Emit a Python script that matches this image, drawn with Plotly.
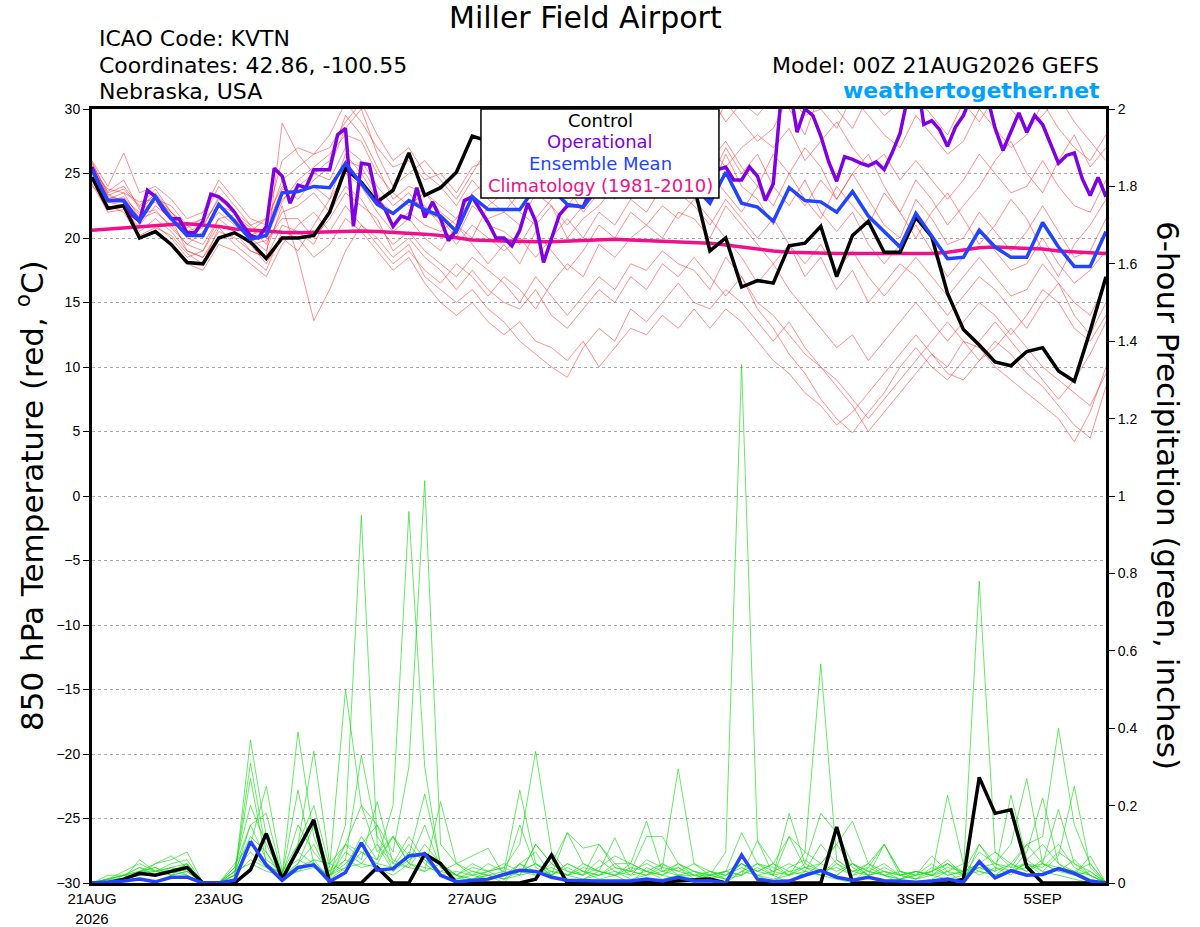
import pandas as pd
import plotly.graph_objects as go

# ---- data ----
start = "2026-08-21 00:00"
times_6h = pd.date_range(start, periods=65, freq="6h")
times_3h = pd.date_range(start, periods=129, freq="3h")

tick_dates = ["2026-08-21", "2026-08-23", "2026-08-25", "2026-08-27",
              "2026-08-29", "2026-09-01", "2026-09-03", "2026-09-05"]
tick_labels = ["21AUG<br>2026", "23AUG", "25AUG", "27AUG",
               "29AUG", "1SEP", "3SEP", "5SEP"]

# control run, 850 hPa temperature (C), 6-hourly
control_temp = [
    24.7, 22.3, 22.5, 20.0, 20.5, 19.5, 18.1, 18.0, 20.0, 20.4, 19.7, 18.4, 20.0,
    20.0, 20.2, 22.0, 25.4, 24.3, 22.8, 23.7, 26.6, 23.3, 23.9, 25.1, 27.9, 27.5,
    27.0, 27.2, 26.0, 25.5, 26.5, 27.0, 26.2, 25.0, 25.8, 26.5, 25.5, 24.8, 24.0,
    19.0, 20.0, 16.2, 16.7, 16.5, 19.4, 19.6, 20.9, 17.0, 20.2, 21.3, 18.9, 18.9,
    21.6, 20.1, 15.7, 12.9, 11.7, 10.4, 10.1, 11.2, 11.5, 9.7, 8.9, 12.8, 17.0,
]

# operational run, 3-hourly
oper_temp = [
    25.5, 24.0, 22.9, 22.9, 22.9, 21.8, 21.3, 23.7,
    23.2, 22.2, 21.5, 21.5, 20.4, 20.4, 21.3, 23.4,
    23.2, 22.7, 22.0, 21.0, 20.2, 20.0, 20.9, 25.4,
    24.8, 22.7, 24.1, 23.9, 25.3, 25.3, 25.3, 28.0,
    28.5, 20.9, 25.8, 25.7, 22.9, 22.2, 20.9, 21.7,
    21.5, 23.9, 21.6, 22.8, 21.5, 19.8, 20.6, 22.9,
    23.2, 22.2, 21.2, 20.0, 20.0, 19.4, 20.6, 22.7,
    21.3, 18.1, 20.0, 21.8, 22.5, 22.5, 22.4, 23.8,
    24.5, 25.2, 24.8, 25.6, 26.3, 25.5, 24.6, 25.8,
    26.5, 25.7, 24.9, 25.4, 24.6, 24.0, 22.9, 25.3,
    25.5, 24.5, 24.5, 25.5, 24.8, 22.9, 24.2, 31.0,
    32.0, 28.2, 30.0, 29.5, 27.9, 25.9, 24.4, 26.3,
    26.1, 25.8, 25.6, 25.9, 25.3, 26.6, 28.1, 31.0,
    33.0, 28.8, 29.1, 28.4, 27.1, 28.6, 29.5, 31.0,
    32.0, 31.0, 28.5, 26.8, 28.2, 29.7, 28.2, 29.5,
    28.8, 27.3, 25.8, 26.4, 26.6, 24.6, 23.3, 24.7,
    23.2,
]

mean_temp = [
    25.3, 22.9, 22.9, 21.3, 23.2, 21.5, 20.2, 20.2, 22.6, 21.3, 19.9, 20.2, 23.5,
    23.6, 24.0, 23.9, 25.8, 24.2, 22.6, 21.9, 22.9, 22.2, 21.7, 20.5, 23.2, 22.2,
    22.2, 22.2, 24.0, 23.8, 22.6, 22.4, 24.0, 24.5, 25.0, 24.5, 25.0, 24.5, 24.0,
    22.7, 25.1, 22.7, 22.4, 21.3, 23.9, 22.9, 22.8, 22.0, 23.6, 21.7, 20.5, 19.3,
    21.9, 20.2, 18.4, 18.5, 20.6, 19.3, 18.5, 18.5, 21.2, 19.3, 17.8, 17.8, 20.5,
]

clim_temp = [
    20.6, 20.7, 20.8, 20.9, 21.0, 21.05, 21.1, 21.0, 20.9, 20.7, 20.6, 20.5, 20.45,
    20.4, 20.45, 20.5, 20.55, 20.55, 20.5, 20.45, 20.4, 20.3, 20.2, 20.0, 19.85, 19.8,
    19.75, 19.7, 19.7, 19.7, 19.75, 19.8, 19.85, 19.9, 19.85, 19.8, 19.75, 19.7, 19.65,
    19.6, 19.45, 19.3, 19.1, 19.0, 18.9, 18.85, 18.8, 18.8, 18.8, 18.8, 18.8, 18.8,
    18.75, 18.8, 18.9, 19.1, 19.25, 19.3, 19.25, 19.2, 19.15, 19.0, 18.9, 18.85, 18.8,
]

# ensemble members, temperature
member_temp = [
    [25.8, 23.5, 24.0, 22.5, 23.8, 22.0, 21.0, 21.5, 24.0, 22.5, 21.0, 21.5, 26.0,
     27.0, 26.5, 28.0, 30.5, 29.0, 27.0, 25.5, 26.0, 24.5, 25.0, 23.5, 25.5, 26.0,
     25.0, 24.0, 26.5, 27.0, 25.5, 26.0, 27.5, 28.0, 27.0, 28.5, 29.5, 30.5, 29.0,
     28.0, 30.5, 29.0, 27.5, 28.5, 31.0, 29.5, 30.0, 28.5, 31.0, 29.5, 28.0, 27.0,
     29.5, 28.0, 26.5, 27.5, 30.0, 28.5, 27.0, 28.0, 30.5, 28.5, 27.0, 26.0, 28.0],
    [24.5, 22.8, 22.5, 20.5, 21.5, 20.5, 19.0, 18.5, 20.5, 20.0, 19.0, 18.5, 21.0,
     20.5, 19.5, 22.0, 24.0, 23.0, 21.0, 19.5, 20.5, 19.0, 18.0, 17.0, 18.5, 17.5,
     16.5, 15.0, 17.0, 15.5, 14.0, 15.5, 17.0, 16.0, 18.0, 17.5, 19.0, 18.0, 17.5,
     16.0, 18.5, 17.0, 15.0, 14.0, 12.5, 11.0, 10.0, 8.5, 7.0, 5.0, 6.5, 8.0,
     9.5, 11.0, 10.0, 12.0, 11.5, 10.0, 9.0, 8.0, 7.0, 6.0, 4.2, 6.5, 10.0],
    [25.0, 23.0, 23.5, 21.5, 22.0, 21.0, 19.5, 20.5, 22.0, 21.0, 20.0, 19.0, 22.5,
     18.5, 13.6, 16.0, 19.0, 21.0, 19.5, 18.0, 19.0, 17.5, 16.5, 18.0, 17.0, 15.5,
     17.0, 16.0, 14.5, 16.5, 18.0, 17.0, 19.5, 18.5, 20.0, 21.0, 20.0, 22.0, 21.5,
     20.0, 22.5, 21.0, 19.5, 18.0, 19.5, 17.0, 18.5, 16.0, 17.5, 15.0, 16.5, 18.0,
     17.0, 15.5, 14.0, 15.5, 17.0, 16.0, 14.5, 13.0, 15.0, 16.5, 14.0, 12.5, 15.0],
    [26.0, 24.0, 26.6, 23.5, 24.0, 23.0, 21.5, 22.0, 24.5, 23.0, 21.5, 21.0, 24.5,
     25.5, 26.5, 27.0, 29.0, 30.5, 28.0, 26.0, 27.0, 25.0, 24.0, 22.5, 24.5, 23.0,
     22.0, 23.5, 25.0, 24.0, 22.5, 24.0, 26.0, 25.0, 26.5, 27.5, 26.0, 28.0, 27.0,
     26.0, 27.5, 25.5, 24.0, 22.5, 25.0, 27.0, 25.5, 23.0, 25.0, 26.5, 24.0, 22.0,
     24.5, 23.0, 21.0, 22.5, 24.0, 26.0, 27.5, 25.0, 23.5, 26.0, 28.0, 25.5, 27.0],
    [24.8, 22.5, 22.0, 20.0, 20.5, 19.5, 18.0, 17.5, 19.5, 19.0, 18.0, 17.0, 19.5,
     21.0, 22.0, 20.5, 22.5, 21.0, 20.0, 18.5, 19.5, 17.0, 16.0, 15.0, 16.0, 14.5,
     13.5, 12.0, 11.0, 10.0, 9.2, 11.5, 13.0, 12.0, 14.5, 13.5, 15.0, 16.5, 15.0,
     14.5, 16.0, 15.0, 13.5, 12.0, 13.5, 11.5, 10.0, 9.0, 7.5, 6.0, 7.5, 9.0,
     10.5, 12.0, 13.5, 12.0, 10.5, 11.5, 13.0, 11.5, 10.0, 9.0, 8.0, 7.0, 9.5],
    [25.5, 23.2, 23.0, 22.0, 23.5, 22.0, 20.5, 21.0, 23.0, 22.0, 20.5, 20.5, 23.0,
     24.0, 25.0, 24.5, 27.0, 26.0, 24.0, 22.5, 23.5, 22.0, 21.5, 20.0, 22.5, 21.5,
     22.0, 21.0, 23.5, 22.5, 21.0, 22.5, 24.0, 23.0, 25.0, 24.5, 26.0, 25.0, 24.5,
     23.5, 26.5, 24.0, 23.0, 21.0, 24.0, 22.5, 24.5, 23.0, 25.0, 23.0, 21.0, 20.0,
     23.0, 21.5, 19.5, 20.0, 22.0, 20.5, 19.0, 20.5, 22.5, 20.5, 18.5, 19.0, 21.5],
    [25.2, 23.8, 23.5, 22.8, 23.0, 22.5, 21.0, 20.0, 22.5, 21.5, 20.5, 21.5, 24.0,
     23.0, 24.5, 25.5, 28.5, 30.0, 26.5, 24.0, 25.0, 26.0, 24.5, 23.0, 25.0, 27.0,
     26.0, 27.5, 28.0, 26.5, 27.5, 29.0, 30.5, 28.5, 27.0, 29.5, 31.0, 29.0, 30.5,
     31.0, 29.0, 30.5, 29.5, 31.0, 30.0, 28.0, 31.5, 30.0, 28.5, 31.0, 29.5, 30.5,
     31.0, 29.5, 28.0, 30.5, 29.0, 31.0, 30.0, 28.5, 29.5, 31.0, 29.0, 27.5, 26.0],
    [24.2, 22.0, 22.2, 20.8, 21.0, 20.0, 18.5, 19.0, 21.0, 20.5, 19.5, 18.0, 20.0,
     19.0, 21.0, 23.0, 25.0, 24.0, 22.0, 20.5, 21.5, 20.0, 19.0, 21.0, 19.5, 18.0,
     19.5, 18.0, 20.5, 19.0, 17.5, 19.0, 21.0, 20.0, 22.0, 21.0, 22.5, 21.5, 23.0,
     21.5, 20.0, 18.5, 16.5, 18.0, 16.0, 14.5, 13.0, 11.5, 12.5, 10.5, 12.0, 13.5,
     15.0, 13.5, 12.0, 13.5, 15.0, 14.0, 12.5, 14.0, 16.0, 15.0, 13.0, 12.0, 14.0],
    [25.6, 23.6, 24.5, 22.2, 22.8, 21.5, 20.0, 19.5, 21.5, 21.8, 20.8, 19.5, 22.0,
     22.5, 23.5, 22.0, 26.0, 25.5, 23.5, 21.0, 22.0, 21.0, 20.5, 21.5, 23.0, 21.0,
     20.5, 19.5, 21.5, 23.0, 24.0, 22.0, 23.5, 25.5, 24.0, 26.0, 24.5, 27.0, 26.0,
     24.5, 27.0, 25.0, 26.5, 24.0, 22.5, 24.5, 22.0, 20.5, 22.0, 19.5, 18.0, 19.5,
     21.0, 19.0, 17.0, 18.5, 20.5, 19.0, 17.5, 18.0, 20.0, 18.0, 16.5, 17.5, 19.0],
    [24.0, 23.0, 23.0, 21.0, 22.5, 21.5, 19.0, 18.5, 20.0, 20.5, 19.0, 18.5, 28.9,
     26.5, 25.0, 26.0, 29.5, 28.0, 25.5, 23.0, 24.0, 23.5, 22.0, 21.0, 20.0, 22.5,
     23.5, 22.0, 21.0, 22.5, 20.0, 21.5, 22.5, 24.0, 23.0, 24.5, 23.5, 25.0, 26.5,
     25.0, 23.5, 22.0, 24.0, 26.5, 25.0, 23.0, 21.5, 24.0, 22.5, 21.0, 23.5, 22.0,
     20.0, 22.0, 23.5, 21.5, 19.5, 21.0, 23.0, 21.5, 19.0, 17.0, 19.5, 21.0, 23.0],
    [25.0, 22.8, 23.2, 21.8, 22.2, 20.8, 19.5, 19.0, 21.5, 20.5, 19.5, 19.8, 21.5,
     21.5, 20.0, 21.5, 23.5, 22.5, 21.5, 19.0, 20.0, 18.5, 17.5, 16.0, 17.5, 16.0,
     15.0, 14.5, 16.0, 14.0, 13.0, 14.5, 16.0, 15.0, 17.0, 16.0, 18.0, 17.0, 18.5,
     17.0, 15.5, 17.0, 14.5, 13.0, 11.0, 9.5, 7.5, 6.0, 4.9, 6.5, 8.0, 10.0,
     11.5, 10.0, 9.0, 10.5, 12.0, 13.5, 12.0, 10.5, 9.0, 7.5, 9.0, 11.0, 13.5],
    [25.4, 23.4, 22.8, 21.6, 23.0, 22.0, 20.8, 21.5, 22.5, 22.0, 21.0, 20.0, 22.8,
     24.5, 25.5, 26.5, 28.0, 27.5, 25.0, 23.5, 22.5, 23.5, 22.5, 21.5, 23.5, 24.5,
     24.0, 25.5, 24.5, 26.0, 25.0, 24.0, 25.5, 27.0, 26.0, 27.0, 28.5, 27.5, 28.0,
     27.0, 25.5, 27.0, 28.0, 27.0, 28.5, 26.0, 27.5, 29.0, 27.0, 25.5, 26.5, 24.5,
     26.0, 24.5, 23.0, 24.5, 26.5, 25.0, 23.5, 24.0, 26.0, 24.0, 22.5, 22.0, 24.5],
    [24.6, 22.2, 22.4, 20.2, 20.8, 20.2, 18.8, 18.0, 20.8, 19.5, 18.5, 17.5, 20.5,
     20.0, 18.5, 19.5, 21.5, 20.5, 19.0, 17.5, 18.5, 16.5, 15.0, 14.0, 15.0, 13.5,
     12.5, 13.5, 12.0, 11.5, 10.5, 12.0, 10.0, 11.5, 13.0, 12.5, 14.0, 13.0, 14.5,
     13.0, 14.5, 13.5, 12.0, 10.5, 9.5, 8.0, 7.0, 5.5, 6.5, 8.0, 9.5, 11.0,
     12.5, 11.0, 9.5, 9.0, 10.5, 12.0, 11.0, 9.5, 8.5, 7.0, 5.5, 4.5, 8.5],
    [25.9, 23.3, 23.8, 22.4, 23.4, 21.8, 20.3, 20.8, 23.2, 21.8, 20.2, 20.8, 23.8,
     23.5, 24.0, 23.0, 26.5, 25.0, 23.0, 22.0, 23.0, 22.5, 21.0, 19.5, 21.0, 20.0,
     19.0, 20.0, 18.5, 20.0, 21.5, 20.0, 22.0, 21.0, 23.0, 22.0, 24.0, 23.5, 22.5,
     21.0, 23.0, 21.5, 20.0, 21.5, 19.5, 18.0, 19.5, 17.5, 19.0, 17.0, 15.5, 17.0,
     18.5, 17.0, 15.5, 17.0, 18.5, 17.0, 15.5, 16.0, 18.0, 16.5, 15.0, 14.0, 16.5],
]

# 6-hour precipitation (inches)
control_precip = [
    0, 0, 0.01, 0.025, 0.02, 0.03, 0.04, 0, 0, 0, 0.034, 0.128, 0.01,
    0.087, 0.163, 0, 0, 0, 0.04, 0, 0, 0.075, 0.05, 0, 0, 0,
    0, 0, 0.01, 0.072, 0, 0, 0.002, 0.002, 0.003, 0.005, 0.003, 0.005, 0.007,
    0.01, 0, 0, 0, 0, 0, 0, 0, 0.145, 0, 0, 0, 0,
    0, 0, 0, 0.01, 0.273, 0.18, 0.189, 0.042, 0, 0, 0, 0, 0,
]

mean_precip = [
    0, 0.002, 0.005, 0.01, 0.003, 0.015, 0.015, 0, 0, 0.007, 0.107, 0.047, 0.007,
    0.04, 0.047, 0.004, 0.027, 0.104, 0.033, 0.037, 0.07, 0.075, 0.02, 0.003, 0.006, 0.01,
    0.022, 0.033, 0.03, 0.015, 0.007, 0.005, 0.005, 0.005, 0.005, 0.01, 0.005, 0.015, 0.005,
    0.006, 0, 0.072, 0.01, 0.004, 0.005, 0.02, 0.032, 0.015, 0.007, 0.015, 0.006, 0.005,
    0.002, 0.005, 0.01, 0.002, 0.055, 0.013, 0.032, 0.02, 0.022, 0.037, 0.025, 0.005, 0,
]

member_precip = [
    [0, 0.01, 0.02, 0.04, 0.02, 0.03, 0.05, 0, 0, 0.03, 0.12, 0.08, 0.02,
     0.05, 0.1, 0.02, 0.15, 0.95, 0.1, 0.05, 0.12, 0.06, 0.02, 0, 0.01, 0.02,
     0, 0.05, 0.08, 0.02, 0, 0.01, 0.03, 0.02, 0, 0.04, 0.02, 0.01, 0,
     0.02, 0.08, 1.34, 0.11, 0.02, 0, 0.03, 0.02, 0.01, 0, 0.04, 0.02, 0,
     0, 0.01, 0.03, 0, 0.1, 0.04, 0.02, 0.06, 0.03, 0.02, 0.01, 0, 0],
    [0, 0, 0.01, 0.03, 0.05, 0.07, 0.04, 0, 0, 0.02, 0.15, 0.06, 0.03,
     0.08, 0.05, 0.01, 0.04, 0.12, 0.06, 0.2, 0.96, 0.3, 0.04, 0.02, 0, 0.01,
     0.02, 0.03, 0.05, 0.02, 0.04, 0.02, 0.06, 0.03, 0.01, 0.02, 0.05, 0.03, 0.02,
     0.01, 0, 0.03, 0.02, 0, 0.04, 0.06, 0.03, 0.02, 0.05, 0.02, 0.1, 0.03,
     0.01, 0.02, 0.05, 0.03, 0.78, 0.08, 0.05, 0.03, 0.06, 0.1, 0.04, 0.02, 0],
    [0, 0.01, 0.01, 0.06, 0.03, 0.04, 0.02, 0, 0, 0.04, 0.2, 0.1, 0.02,
     0.15, 0.08, 0.03, 0.1, 0.2, 0.15, 0.08, 0.3, 1.04, 0.1, 0.05, 0.02, 0.03,
     0.01, 0.05, 0.02, 0.03, 0.02, 0.01, 0.02, 0.04, 0.03, 0.12, 0.12, 0.05, 0.02,
     0.03, 0.01, 0.02, 0.05, 0.03, 0.02, 0.08, 0.566, 0.06, 0.03, 0.05, 0.02, 0.01,
     0.03, 0.02, 0.01, 0.02, 0.04, 0.02, 0.03, 0.05, 0.02, 0.04, 0.03, 0.01, 0],
    [0, 0, 0.02, 0.03, 0.04, 0.02, 0.03, 0, 0, 0.01, 0.37, 0.12, 0.01,
     0.1, 0.2, 0.04, 0.5, 0.2, 0.08, 0.12, 0.05, 0.15, 0.04, 0.01, 0.03, 0.02,
     0.03, 0.02, 0.1, 0.05, 0.02, 0.03, 0.01, 0.02, 0.05, 0.03, 0.02, 0.04, 0.01,
     0.02, 0.03, 0.13, 0.05, 0.02, 0.03, 0.02, 0.05, 0.1, 0.04, 0.02, 0.03, 0.01,
     0.02, 0.05, 0.02, 0.03, 0.1, 0.05, 0.04, 0.1, 0.12, 0.4, 0.15, 0.05, 0],
    [0, 0.01, 0.03, 0.05, 0.03, 0.05, 0.06, 0, 0, 0.05, 0.1, 0.05, 0.02,
     0.39, 0.12, 0.02, 0.08, 0.05, 0.1, 0.03, 0.08, 0.06, 0.03, 0.02, 0.05, 0.03,
     0.04, 0.1, 0.34, 0.08, 0.03, 0.02, 0.04, 0.07, 0.05, 0.03, 0.01, 0.02, 0.03,
     0.01, 0.02, 0.04, 0.02, 0.03, 0.05, 0.03, 0.1, 0.05, 0.02, 0.03, 0.05, 0.02,
     0.01, 0.03, 0.05, 0.02, 0.08, 0.05, 0.1, 0.27, 0.05, 0.03, 0.06, 0.02, 0],
    [0, 0.02, 0.02, 0.02, 0.05, 0.06, 0.08, 0, 0, 0.03, 0.08, 0.04, 0.03,
     0.1, 0.34, 0.05, 0.1, 0.08, 0.05, 0.04, 0.1, 0.05, 0.02, 0.03, 0.02, 0.01,
     0.02, 0.05, 0.03, 0.02, 0.05, 0.03, 0.02, 0.03, 0.02, 0.06, 0.04, 0.295, 0.05,
     0.02, 0.01, 0.05, 0.03, 0.05, 0.02, 0.04, 0.02, 0.06, 0.03, 0.02, 0.04, 0.02,
     0.03, 0.02, 0.227, 0.05, 0.02, 0.04, 0.03, 0.05, 0.04, 0.08, 0.05, 0.03, 0],
    [0, 0, 0.01, 0.03, 0.02, 0.04, 0.05, 0, 0, 0.02, 0.31, 0.08, 0.01,
     0.05, 0.15, 0.03, 0.06, 0.33, 0.12, 0.06, 0.04, 0.1, 0.05, 0.02, 0.01, 0.02,
     0.01, 0.03, 0.05, 0.02, 0.13, 0.09, 0.1, 0.05, 0.02, 0.03, 0.05, 0.02, 0.01,
     0.03, 0.02, 0.05, 0.02, 0.01, 0.02, 0.05, 0.03, 0.04, 0.02, 0.05, 0.03, 0.02,
     0.01, 0.04, 0.02, 0.03, 0.05, 0.03, 0.227, 0.06, 0.1, 0.05, 0.02, 0.07, 0],
    [0, 0.01, 0.02, 0.04, 0.03, 0.03, 0.04, 0, 0, 0.01, 0.1, 0.25, 0.03,
     0.06, 0.04, 0.02, 0.05, 0.1, 0.15, 0.03, 0.06, 0.08, 0.02, 0.01, 0.02, 0.05,
     0.03, 0.24, 0.05, 0.03, 0.02, 0.04, 0.03, 0.117, 0.03, 0.05, 0.03, 0.02, 0.02,
     0.01, 0.03, 0.02, 0.04, 0.02, 0.12, 0.04, 0.03, 0.02, 0.05, 0.03, 0.02, 0.03,
     0.02, 0.07, 0.03, 0.02, 0.05, 0.08, 0.04, 0.05, 0.03, 0.07, 0.25, 0.04, 0],
    [0, 0, 0.01, 0.02, 0.02, 0.03, 0.02, 0, 0, 0.02, 0.27, 0.05, 0.02,
     0.03, 0.06, 0.01, 0.1, 0.06, 0.21, 0.05, 0.04, 0.03, 0.05, 0.02, 0.04, 0.03,
     0.05, 0.03, 0.02, 0.05, 0.03, 0.02, 0.1, 0.04, 0.03, 0.02, 0.03, 0.05, 0.03,
     0.02, 0.01, 0.03, 0.05, 0.04, 0.02, 0.03, 0.02, 0.05, 0.03, 0.04, 0.1, 0.02,
     0.03, 0.02, 0.04, 0.03, 0.04, 0.05, 0.03, 0.08, 0.22, 0.05, 0.03, 0.02, 0],
    [0, 0.01, 0.01, 0.03, 0.04, 0.02, 0.03, 0, 0, 0.04, 0.15, 0.18, 0.02,
     0.24, 0.05, 0.02, 0.06, 0.04, 0.05, 0.12, 0.05, 0.03, 0.21, 0.05, 0.07, 0.09,
     0.02, 0.15, 0.04, 0.02, 0.05, 0.03, 0.02, 0.05, 0.05, 0.16, 0.03, 0.04, 0.02,
     0.02, 0.03, 0.05, 0.03, 0.02, 0.18, 0.05, 0.18, 0.13, 0.05, 0.03, 0.02, 0.01,
     0.02, 0.03, 0.05, 0.02, 0.03, 0.02, 0.05, 0.03, 0.05, 0.19, 0.05, 0.02, 0],
    [0, 0.01, 0.02, 0.03, 0.03, 0.02, 0.05, 0, 0, 0.03, 0.05, 0.03, 0.02,
     0.04, 0.06, 0.05, 0.03, 0.08, 0.06, 0.12, 0.07, 0.23, 0.05, 0.02, 0.01, 0.03,
     0.04, 0.02, 0.03, 0.04, 0.02, 0.05, 0.03, 0.02, 0.04, 0.03, 0.02, 0.05, 0.03,
     0.02, 0.03, 0.02, 0.11, 0.05, 0.03, 0.04, 0.05, 0.1, 0.16, 0.05, 0.1, 0.03,
     0.02, 0.03, 0.06, 0.02, 0.04, 0.03, 0.05, 0.1, 0.05, 0.04, 0.03, 0.05, 0],
    [0, 0, 0.01, 0.02, 0.03, 0.04, 0.03, 0, 0, 0.02, 0.06, 0.04, 0.01,
     0.03, 0.04, 0.02, 0.04, 0.05, 0.04, 0.02, 0.05, 0.04, 0.03, 0.05, 0.03, 0.02,
     0.01, 0.02, 0.1, 0.05, 0.13, 0.05, 0.03, 0.02, 0.03, 0.02, 0.04, 0.03, 0.05,
     0.03, 0.02, 0.05, 0.03, 0.05, 0.12, 0.08, 0.05, 0.03, 0.05, 0.02, 0.03, 0.02,
     0.03, 0.02, 0.03, 0.05, 0.03, 0.02, 0.03, 0.04, 0.05, 0.03, 0.02, 0.03, 0],
]

FONT = "Liberation Sans, Arial, Helvetica, sans-serif"
WIDE = "DejaVu Sans, Verdana, sans-serif"   # the header text in the image is wide-set
C_OPER = "#7f00e0"
C_MEAN = "#2244ff"
C_CLIM = "#f0108c"

fig = go.Figure()

# spaghetti: temperature members (red), precip members (green)
for m in member_temp:
    fig.add_trace(go.Scatter(x=times_6h, y=m, mode="lines",
                             line=dict(color="rgba(255,40,40,0.65)", width=0.8),
                             hoverinfo="skip", showlegend=False))
for m in member_precip:
    fig.add_trace(go.Scatter(x=times_6h, y=m, mode="lines", yaxis="y2",
                             line=dict(color="rgba(30,220,30,0.85)", width=0.8),
                             hoverinfo="skip", showlegend=False))

# main temperature lines
fig.add_trace(go.Scatter(x=times_6h, y=clim_temp, mode="lines",
                         line=dict(color=C_CLIM, width=3.5), showlegend=False))
fig.add_trace(go.Scatter(x=times_6h, y=control_temp, mode="lines",
                         line=dict(color="black", width=3.5), showlegend=False))
fig.add_trace(go.Scatter(x=times_3h, y=oper_temp, mode="lines",
                         line=dict(color=C_OPER, width=3.5), showlegend=False))
fig.add_trace(go.Scatter(x=times_6h, y=mean_temp, mode="lines",
                         line=dict(color=C_MEAN, width=3.5), showlegend=False))

# main precip lines
fig.add_trace(go.Scatter(x=times_6h, y=control_precip, mode="lines", yaxis="y2",
                         line=dict(color="black", width=3.5), showlegend=False))
fig.add_trace(go.Scatter(x=times_6h, y=mean_precip, mode="lines", yaxis="y2",
                         line=dict(color=C_MEAN, width=3.5), showlegend=False))

# legend box (opaque, sits over the lines)
fig.add_shape(type="rect", xref="paper", yref="paper",
              x0=0.3836, x1=0.6183, y0=0.885, y1=1.0,
              fillcolor="white", line=dict(color="black", width=1.5), layer="above")
legend_items = [("Control", "black", 0.9845), ("Operational", C_OPER, 0.9574),
                ("Ensemble Mean", C_MEAN, 0.9302), ("Climatology (1981-2010)", C_CLIM, 0.9018)]
for txt, col, yy in legend_items:
    fig.add_annotation(text=txt, xref="paper", yref="paper", x=0.501, y=yy,
                       showarrow=False, font=dict(size=18, color=col, family=WIDE),
                       xanchor="center", yanchor="middle")

# header texts
fig.add_annotation(text="Miller Field Airport", xref="paper", yref="paper",
                   x=0.4862, y=1.1176, showarrow=False, xanchor="center", yanchor="middle",
                   font=dict(size=30, color="black", family=WIDE))
for txt, yy in [("ICAO Code: KVTN", 1.0917), ("Coordinates: 42.86, -100.55", 1.0556),
                ("Nebraska, USA", 1.022)]:
    fig.add_annotation(text=txt, xref="paper", yref="paper", x=0.0049, y=yy,
                       showarrow=False, xanchor="left", yanchor="middle",
                       font=dict(size=22, color="black", family=WIDE))
fig.add_annotation(text="Model: 00Z 21AUG2026 GEFS", xref="paper", yref="paper",
                   x=0.9951, y=1.0556, showarrow=False, xanchor="right", yanchor="middle",
                   font=dict(size=22, color="black", family=WIDE))
fig.add_annotation(text="<b>weathertogether.net</b>", xref="paper", yref="paper",
                   x=0.9961, y=1.0245, showarrow=False, xanchor="right", yanchor="middle",
                   font=dict(size=22, color="#00a2ff", family=WIDE))

# axis titles
fig.add_annotation(text="850 hPa Temperature (red, <sup>o</sup>C)", xref="paper", yref="paper",
                   x=-0.0611, y=0.5, showarrow=False, textangle=-90,
                   xanchor="center", yanchor="middle",
                   font=dict(size=31, color="black", family=WIDE))
fig.add_annotation(text="6-hour Precipitation (green, inches)", xref="paper", yref="paper",
                   x=1.0611, y=0.5, showarrow=False, textangle=90,
                   xanchor="center", yanchor="middle",
                   font=dict(size=31, color="black", family=WIDE))

fig.update_layout(
    width=1200, height=927,
    margin=dict(l=92, r=94, t=109, b=44),
    paper_bgcolor="white", plot_bgcolor="white",
    font=dict(family=FONT, color="black"),
    xaxis=dict(type="date", range=["2026-08-21 00:00", "2026-09-06 00:00"],
               tickvals=tick_dates, ticktext=tick_labels, tickfont=dict(size=15),
               showgrid=False, zeroline=False, showline=True, linecolor="black",
               linewidth=3, mirror=True, ticks="", automargin=False),
    yaxis=dict(range=[-30, 30], dtick=5, tickfont=dict(size=14),
               ticks="outside", ticklen=6, tickcolor="black",
               showgrid=True, gridcolor="#a8a8a8", griddash="dot", gridwidth=1,
               zeroline=False, showline=True, linecolor="black", linewidth=3,
               mirror=True, automargin=False),
    yaxis2=dict(range=[0, 2], dtick=0.2, overlaying="y", side="right",
                tickfont=dict(size=14), ticks="outside", ticklen=8, tickcolor="black",
                showgrid=False, zeroline=False, showline=False, automargin=False),
)

# drop the browser's default 8px body margin so the figure sits at the page corner
fig.write_html("out.html", config={"displayModeBar": False},
               post_script="document.body.style.margin='0';")
